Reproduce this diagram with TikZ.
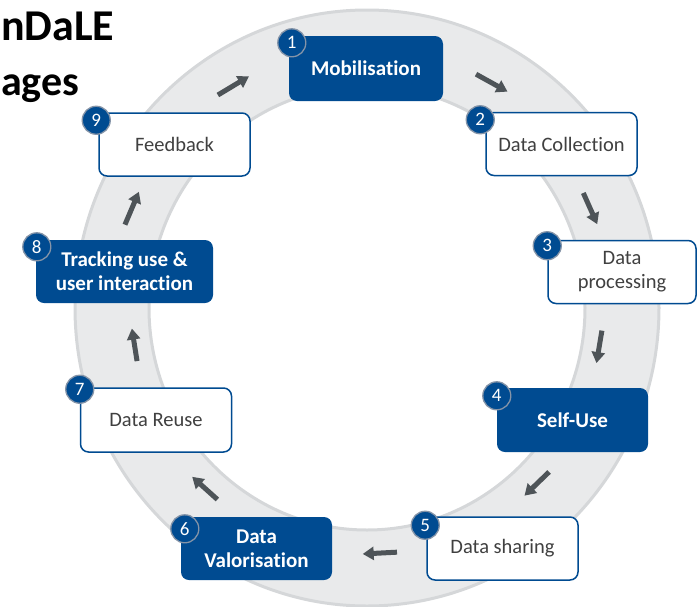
\documentclass[tikz,border=0pt]{standalone}
\usepackage{fontspec}
\setmainfont{Carlito}[Ligatures=NoCommon]
\usetikzlibrary{calc,arrows.meta}
\definecolor{stageblue}{HTML}{004B91}
\definecolor{ringfill}{HTML}{E9EAEB}
\definecolor{ringline}{HTML}{D5D7D9}
\definecolor{arrowgray}{HTML}{4E5458}
\definecolor{textgray}{HTML}{404040}
\definecolor{badgeline}{HTML}{8594A8}
\tikzset{
  stage/.style={rectangle, rounded corners=8pt, minimum width=151pt, minimum height=63pt,
    inner sep=2pt, align=center},
  keystage/.style={stage, fill=stageblue, text=white, font=\bfseries\fontsize{21}{24}\selectfont},
  plainstage/.style={stage, draw=stageblue, line width=1.5pt, fill=white, text=textgray,
    font=\fontsize{20.5}{24}\selectfont},
  badge/.style={circle, fill=stageblue, draw=badgeline, line width=1.3pt, minimum size=28pt,
    inner sep=0pt, text=white, font=\fontsize{19}{19}\selectfont},
  cyclearrow/.style={arrowgray, line width=5pt, -{Triangle[length=11pt,width=13pt]}},
}
\begin{document}
\begin{tikzpicture}[x=1pt, y=-1pt]
  \useasboundingbox (0,0) rectangle (697,606);
  % ring
  \coordinate (hub) at (367,308);
  \fill[ringfill, even odd rule] (hub) ellipse [x radius=292pt, y radius=298pt]
    (hub) ellipse [x radius=218pt, y radius=222pt];
  \draw[ringline, line width=3pt] (hub) ellipse [x radius=292pt, y radius=298pt];
  \draw[ringline, line width=3pt] (hub) ellipse [x radius=218pt, y radius=222pt];

  % title
  \node[anchor=base west, inner sep=0pt, font=\bfseries\fontsize{44}{44}\selectfont] (title) at (1,40) {nDaLE};
  \node[anchor=base west, inner sep=0pt, font=\bfseries\fontsize{42}{42}\selectfont] (subtitle) at (1,95) {ages};

  % arrows along the ring, clockwise
  \foreach \a/\r in {121/260, 61/258, 24/245, -9.5/236, -46/245, -87/246, -132/243, -171/236, 157/256}
    \draw[cyclearrow] ($(hub)+(\a+4:\r pt)$) -- ($(hub)+(\a-4:\r pt)$);

  % stages
  \node[keystage, minimum width=154pt, minimum height=65pt] (mobil) at (366,68.5) {Mobilisation};
  \node[plainstage] (collect) at (561.5,144) {Data Collection};
  \node[plainstage, minimum width=148pt] (process) at (622,272) {Data\\processing};
  \node[keystage, minimum height=64pt] (selfuse) at (572.5,420) {Self-Use};
  \node[plainstage] (share) at (502.5,548.5) {Data sharing};
  \node[keystage] (valor) at (256.5,548.5) {Data\\Valorisation};
  \node[plainstage, minimum height=64pt] (reuse) at (156,420) {Data Reuse};
  \node[keystage, minimum width=177pt] (track) at (124.5,271.5) {Tracking use \&\\user interaction};
  \node[plainstage] (feedback) at (174.5,144.5) {Feedback};

  % numbers
  \node[badge] (n1) at ($(mobil.north west)+(3,7)$) {1};
  \node[badge] (n2) at ($(collect.north west)+(-5,8)$) {2};
  \node[badge] (n3) at ($(process.north west)+(0,6)$) {3};
  \node[badge] (n4) at ($(selfuse.north west)+(0,8)$) {4};
  \node[badge] (n5) at ($(share.north west)+(-1,9)$) {5};
  \node[badge] (n6) at ($(valor.north west)+(4,12)$) {6};
  \node[badge] (n7) at ($(reuse.north west)+(0,2)$) {7};
  \node[badge] (n8) at ($(track.north west)+(1,7)$) {8};
  \node[badge] (n9) at ($(feedback.north west)+(-2,8)$) {9};
\end{tikzpicture}
\end{document}
